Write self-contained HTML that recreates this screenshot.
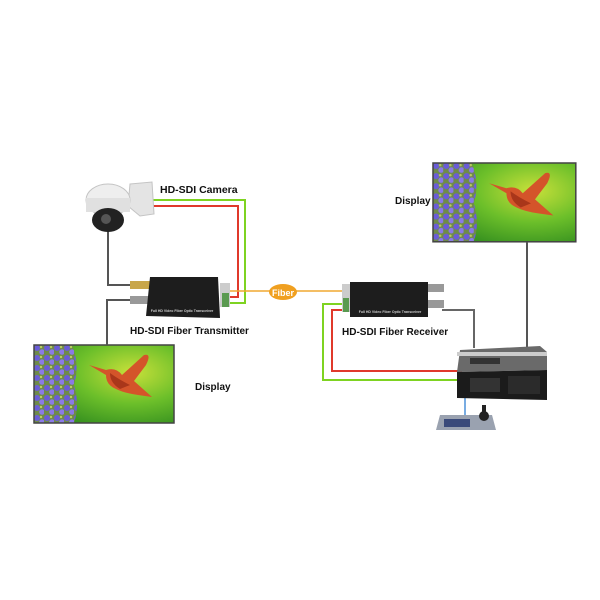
<!DOCTYPE html>
<html><head><style>
html,body{margin:0;padding:0;background:#fff;width:600px;height:600px;overflow:hidden}
svg{display:block}
text{font-family:"Liberation Sans",sans-serif;font-weight:bold;fill:#111}
</style></head><body>
<svg width="600" height="600" viewBox="0 0 600 600" xmlns="http://www.w3.org/2000/svg">
<defs>
<radialGradient id="bg" cx="0.7" cy="0.35" r="0.8">
<stop offset="0" stop-color="#c8e03a"/><stop offset="0.5" stop-color="#6cbf2a"/><stop offset="1" stop-color="#2f8a1e"/>
</radialGradient>
<pattern id="fl" width="10" height="10" patternUnits="userSpaceOnUse">
<rect width="10" height="10" fill="#6f8a4a"/>
<circle cx="3" cy="3" r="3" fill="#6a5cd6"/><circle cx="8" cy="7" r="2.8" fill="#8a7ae6"/><circle cx="7" cy="2" r="1.2" fill="#b8cc60"/>
</pattern>
<g id="disp">
<rect x="0" y="0" width="140" height="78" fill="url(#bg)"/>
<path d="M0 0 H38 Q46 20 40 40 Q46 60 40 78 H0Z" fill="url(#fl)"/>
<path d="M55 20 L72 25 Q82 22 88 30 L110 10 Q118 8 112 20 L100 36 L118 52 L104 50 Q90 48 82 44 Q72 40 72 30Z" fill="#d4542a"/>
<path d="M76 28 Q84 34 96 40 L86 44 Q76 38 76 28Z" fill="#a9361a"/>
<rect x="0" y="0" width="140" height="78" fill="none" stroke="#444" stroke-width="1.5"/>
</g>
</defs>

<use href="#disp" transform="translate(433,163) scale(1.02,1.01)"/>
<text x="395" y="204" font-size="10">Display</text>
<line x1="527" y1="242" x2="527" y2="348" stroke="#555" stroke-width="2"/>

<use href="#disp" transform="translate(34,345)"/>
<text x="195" y="390" font-size="10">Display</text>

<polyline points="152,200 245,200 245,303 228,303" fill="none" stroke="#7ed321" stroke-width="2"/>
<polyline points="152,206 238,206 238,297 228,297" fill="none" stroke="#e0392b" stroke-width="2"/>
<polyline points="108,228 108,285 132,285" fill="none" stroke="#555" stroke-width="2"/>
<polyline points="132,300 107,300 107,345" fill="none" stroke="#555" stroke-width="2"/>
<line x1="224" y1="291" x2="348" y2="291" stroke="#f0a830" stroke-width="1.5"/>
<ellipse cx="283" cy="292" rx="14" ry="8" fill="#f0a020"/>
<text x="283" y="296" font-size="9" style="fill:#fff" text-anchor="middle">Fiber</text>

<polyline points="347,304 323,304 323,380 462,380" fill="none" stroke="#7ed321" stroke-width="2"/>
<polyline points="347,310 332,310 332,371 462,371" fill="none" stroke="#e0392b" stroke-width="2"/>
<polyline points="442,310 474,310 474,348" fill="none" stroke="#666" stroke-width="2"/>
<line x1="465" y1="395" x2="465" y2="415" stroke="#4a90d9" stroke-width="1.5"/>

<path d="M130 184 L152 182 L154 214 L140 216 L128 206Z" fill="#e4e4e4" stroke="#c4c4c4"/>
<ellipse cx="108" cy="200" rx="22" ry="16" fill="#eeeeee" stroke="#c4c4c4"/>
<rect x="86" y="198" width="44" height="14" fill="#e0e0e0"/>
<ellipse cx="108" cy="220" rx="16" ry="12" fill="#222"/>
<circle cx="106" cy="219" r="5" fill="#555"/>
<text x="160" y="193" font-size="10.5">HD-SDI Camera</text>

<rect x="130" y="281" width="20" height="8" fill="#c8a64a"/>
<rect x="130" y="296" width="20" height="8" fill="#999"/>
<rect x="220" y="283" width="10" height="24" fill="#ccc"/>
<rect x="222" y="293" width="7" height="14" fill="#5a9a50"/>
<polygon points="150,277 218,277 220,318 146,316" fill="#1d1d1d"/>
<text x="182" y="312" font-size="3.5" style="fill:#ccc" text-anchor="middle" font-weight="normal">Full HD Video Fiber Optic Transceiver</text>
<text x="130" y="334" font-size="10">HD-SDI Fiber Transmitter</text>

<rect x="342" y="284" width="8" height="28" fill="#ccc"/>
<rect x="343" y="298" width="6" height="14" fill="#5a9a50"/>
<rect x="426" y="284" width="18" height="8" fill="#999"/>
<rect x="426" y="300" width="18" height="8" fill="#999"/>
<polygon points="350,282 428,282 428,317 350,317" fill="#1d1d1d"/>
<text x="390" y="313" font-size="3.5" style="fill:#ccc" text-anchor="middle" font-weight="normal">Full HD Video Fiber Optic Transceiver</text>
<text x="342" y="335" font-size="10">HD-SDI Fiber Receiver</text>

<polygon points="460,350 540,346 547,352 547,370 457,372" fill="#6a6a6a"/>
<polygon points="457,352 547,352 547,356 457,356" fill="#ccc"/>
<rect x="470" y="358" width="30" height="6" fill="#333"/>
<polygon points="457,372 547,370 547,400 457,398" fill="#1b1b1b"/>
<rect x="470" y="378" width="30" height="14" fill="#333"/>
<rect x="508" y="376" width="32" height="18" fill="#2b2b2b"/>
<polygon points="440,415 492,415 496,430 436,430" fill="#9aa2b0"/>
<rect x="444" y="419" width="26" height="8" fill="#3a4a7a"/>
<circle cx="484" cy="416" r="5" fill="#222"/>
<rect x="482" y="405" width="4" height="11" fill="#222"/>
</svg>
</body></html>
